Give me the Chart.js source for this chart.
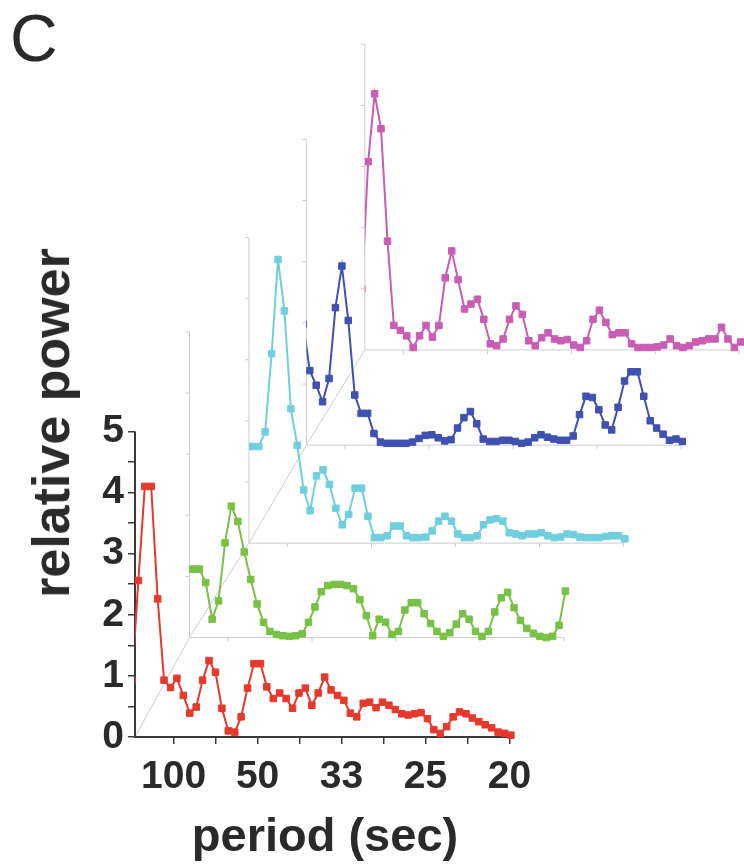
<!DOCTYPE html>
<html>
<head>
<meta charset="utf-8">
<script src="https://cdn.jsdelivr.net/npm/chart.js@4.4.1/dist/chart.umd.min.js"></script>
<style>
  body { margin: 0; background: #fff; }
  #wrap { position: relative; width: 744px; height: 866px; overflow: hidden; }
  #plot { position: absolute; left: 0; top: 0; }
  .lbl { position: absolute; font-family: "Liberation Sans", Arial, sans-serif; color: #2a2a2a; white-space: nowrap; line-height: 1; }
  #panel { left: 10px; top: 5px; font-size: 66px; }
  #xtitle { left: 325px; top: 811px; font-size: 47px; font-weight: bold; transform: translateX(-50%); }
  #ytitle { left: 51px; top: 423px; font-size: 52px; font-weight: bold; transform: translate(-50%, -50%) rotate(-90deg); }
</style>
</head>
<body>
<div id="wrap">
  <canvas id="plot" width="744" height="866"></canvas>
  <div class="lbl" id="panel">C</div>
  <div class="lbl" id="ytitle">relative power</div>
  <div class="lbl" id="xtitle">period (sec)</div>
</div>
<script>
// spectrum bins (Hz); the first bin sits just left of the axis and is clipped
const freqHz = [0.00504, 0.00580, 0.00657, 0.00733, 0.00810, 0.00886, 0.00963, 0.01039, 0.01116, 0.01192,
  0.01269, 0.01345, 0.01422, 0.01498, 0.01575, 0.01651, 0.01728, 0.01804, 0.01881, 0.01957,
  0.02034, 0.02110, 0.02187, 0.02263, 0.02340, 0.02416, 0.02493, 0.02569, 0.02646, 0.02722,
  0.02799, 0.02875, 0.02952, 0.03028, 0.03105, 0.03181, 0.03258, 0.03334, 0.03411, 0.03487,
  0.03564, 0.03640, 0.03717, 0.03793, 0.03870, 0.03946, 0.04023, 0.04099, 0.04176, 0.04252,
  0.04329, 0.04405, 0.04482, 0.04558, 0.04635, 0.04711, 0.04788, 0.04864, 0.04941, 0.05017];

// relative power per trace, front (red) to back (magenta)
const powerRed = [0.93, 2.56, 4.1, 4.1, 2.26, 0.93, 0.81, 0.96, 0.68, 0.39, 0.49,
  0.93, 1.25, 1.06, 0.47, 0.1, 0.08, 0.33, 0.8, 1.2, 1.2,
  0.82, 0.63, 0.72, 0.63, 0.47, 0.72, 0.8, 0.52, 0.72, 0.98,
  0.77, 0.68, 0.6, 0.39, 0.33, 0.55, 0.57, 0.48, 0.57, 0.52,
  0.45, 0.38, 0.36, 0.38, 0.4, 0.3, 0.12, 0.06, 0.17, 0.33,
  0.41, 0.38, 0.31, 0.25, 0.2, 0.15, 0.08, 0.06, 0.03];
const powerGreen = [1.12, 1.12, 1.12, 0.9, 0.3, 0.6, 1.55, 2.15, 1.9, 1.4, 0.95,
  0.55, 0.25, 0.1, 0.05, 0.03, 0.02, 0.03, 0.06, 0.25, 0.5,
  0.75, 0.85, 0.87, 0.87, 0.85, 0.8, 0.62, 0.36, 0.03, 0.3,
  0.25, 0.05, 0.1, 0.45, 0.57, 0.57, 0.39, 0.23, 0.1, 0.02,
  0.08, 0.22, 0.39, 0.3, 0.1, 0.02, 0.1, 0.42, 0.65, 0.74,
  0.49, 0.28, 0.15, 0.07, 0.02, 0.0, 0.02, 0.2, 0.76];
const powerCyan = [1.58, 1.58, 1.58, 1.82, 3.1, 4.64, 3.8, 2.2, 1.6, 0.87, 0.53,
  1.1, 1.2, 0.96, 0.57, 0.3, 0.47, 0.9, 0.9, 0.44, 0.09,
  0.09, 0.12, 0.28, 0.28, 0.12, 0.09, 0.09, 0.1, 0.2, 0.36,
  0.44, 0.36, 0.15, 0.09, 0.09, 0.12, 0.3, 0.38, 0.4, 0.36,
  0.17, 0.15, 0.12, 0.15, 0.15, 0.17, 0.12, 0.09, 0.1, 0.15,
  0.14, 0.1, 0.09, 0.09, 0.09, 0.11, 0.12, 0.12, 0.07];
const powerBlue = [1.98, 1.22, 0.98, 0.71, 1.09, 2.25, 2.93, 2.04, 0.82, 0.52, 0.52,
  0.19, 0.05, 0.03, 0.03, 0.03, 0.03, 0.05, 0.11, 0.16, 0.17,
  0.12, 0.07, 0.09, 0.28, 0.45, 0.55, 0.35, 0.1, 0.06, 0.06,
  0.08, 0.08, 0.06, 0.03, 0.05, 0.12, 0.17, 0.13, 0.1, 0.08,
  0.08, 0.15, 0.5, 0.8, 0.78, 0.58, 0.33, 0.25, 0.62, 1.05,
  1.2, 1.2, 0.8, 0.4, 0.28, 0.18, 0.08, 0.1, 0.06];
const powerMagenta = [1.0, 3.08, 4.19, 3.62, 1.78, 0.4, 0.32, 0.23, 0.04, 0.23, 0.4,
  0.21, 0.4, 1.18, 1.62, 1.15, 0.67, 0.75, 0.83, 0.5, 0.1,
  0.07, 0.18, 0.5, 0.72, 0.58, 0.15, 0.07, 0.2, 0.28, 0.18,
  0.15, 0.17, 0.08, 0.04, 0.15, 0.5, 0.65, 0.45, 0.25, 0.28,
  0.28, 0.1, 0.04, 0.04, 0.04, 0.05, 0.08, 0.18, 0.07, 0.04,
  0.07, 0.13, 0.15, 0.18, 0.18, 0.37, 0.18, 0.04, 0.13];

// x ticks in Hz, labelled as period in seconds
const freqTicks = [0.01, 0.015, 0.02, 0.025, 0.03, 0.035, 0.04, 0.045, 0.05];
const powerTicks = [0, 0.5, 1, 1.5, 2, 2.5, 3, 3.5, 4, 4.5, 5];

// waterfall layout: each trace is pushed right (Hz) and up (power units)
const layerShiftHz = [0, 0.00649, 0.01357, 0.02041, 0.02737];
const layerLift = [0, 1.627, 3.172, 4.775, 6.333];
const axisStartHz = 0.0054, axisEndHz = 0.05, powerTop = 5;

const traces = [
  { values: powerRed, color: '#e6392d' },
  { values: powerGreen, color: '#78c145' },
  { values: powerCyan, color: '#70cfdf' },
  { values: powerBlue, color: '#3f51b1' },
  { values: powerMagenta, color: '#c95db3' }
];

const fontFamily = '"Liberation Sans", Arial, sans-serif';

const frames = {
  id: 'frames',
  beforeDatasetsDraw(chart) {
    const { ctx, scales: { x, y } } = chart;
    const px = (f, k) => x.getPixelForValue(f + layerShiftHz[k]);
    const py = (v, k) => y.getPixelForValue(v + layerLift[k]);
    ctx.save();
    ctx.strokeStyle = '#cdcdcd';
    ctx.lineWidth = 1;
    for (let k = 1; k < layerShiftHz.length; k++) {
      const ox = px(axisStartHz, k), oy = py(0, k);
      ctx.beginPath();
      ctx.moveTo(ox, py(powerTop, k));
      ctx.lineTo(ox, oy);
      ctx.lineTo(px(axisEndHz, k), oy);
      for (let v = 1; v <= powerTop; v++) {
        ctx.moveTo(ox - 4, py(v, k));
        ctx.lineTo(ox, py(v, k));
      }
      freqTicks.filter((f, i) => i % 2 === 0).forEach(f => {
        ctx.moveTo(px(f, k), oy);
        ctx.lineTo(px(f, k), oy + 4);
      });
      ctx.stroke();
    }
    // depth axis joining the origins
    ctx.beginPath();
    layerShiftHz.forEach((s, k) => {
      if (k === 0) ctx.moveTo(px(axisStartHz, k), py(0, k));
      else ctx.lineTo(px(axisStartHz, k), py(0, k));
    });
    ctx.stroke();
    // front axes
    ctx.strokeStyle = '#3a3a3a';
    ctx.lineWidth = 2;
    ctx.beginPath();
    ctx.moveTo(px(axisStartHz, 0), py(powerTop, 0));
    ctx.lineTo(px(axisStartHz, 0), py(0, 0));
    ctx.lineTo(px(axisEndHz, 0), py(0, 0));
    ctx.stroke();
    ctx.restore();
  },
  beforeDatasetDraw(chart, args) {
    const { ctx, scales: { x } } = chart;
    const left = x.getPixelForValue(axisStartHz + layerShiftHz[args.index]);
    ctx.save();
    ctx.beginPath();
    ctx.rect(left, 0, chart.width - left, chart.height);
    ctx.clip();
  },
  afterDatasetDraw(chart) {
    chart.ctx.restore();
  }
};

new Chart(document.getElementById('plot'), {
  type: 'line',
  data: {
    datasets: traces.map((t, k) => ({
      data: freqHz.map((f, i) => ({ x: f + layerShiftHz[k], y: t.values[i] + layerLift[k] })),
      borderColor: t.color,
      backgroundColor: t.color,
      borderWidth: 2,
      pointStyle: 'rect',
      pointRadius: 4.6,
      pointBorderWidth: 1,
      tension: 0,
      clip: false
    }))
  },
  options: {
    responsive: false,
    animation: false,
    devicePixelRatio: 1,
    layout: { padding: 0 },
    plugins: { legend: { display: false }, tooltip: { enabled: false } },
    scales: {
      x: {
        type: 'linear',
        min: axisStartHz,
        max: 0.07726,
        afterBuildTicks: s => { s.ticks = freqTicks.map(v => ({ value: v })); },
        afterFit: s => { s.height = 129; },
        grid: { drawOnChartArea: false, drawTicks: true, tickLength: 7, color: '#3a3a3a', lineWidth: 1.5 },
        border: { display: false },
        ticks: {
          autoSkip: false,
          maxRotation: 0,
          padding: 10,
          color: '#2a2a2a',
          font: { family: fontFamily, size: 39, weight: 'bold' },
          callback: v => (Math.round(v * 1000) % 10 === 0 ? String(Math.round(1 / v)) : '')
        }
      },
      y: {
        type: 'linear',
        min: 0,
        max: 11.61,
        afterBuildTicks: s => { s.ticks = powerTicks.map(v => ({ value: v })); },
        afterFit: s => { s.width = 135; },
        grid: { drawOnChartArea: false, drawTicks: true, tickLength: 7, color: '#3a3a3a', lineWidth: 1.5 },
        border: { display: false },
        ticks: {
          autoSkip: false,
          padding: 4,
          color: '#2a2a2a',
          font: { family: fontFamily, size: 39, weight: 'bold' },
          callback: v => (Number.isInteger(v) ? String(v) : '')
        }
      }
    }
  },
  plugins: [frames]
});
</script>
</body>
</html>
